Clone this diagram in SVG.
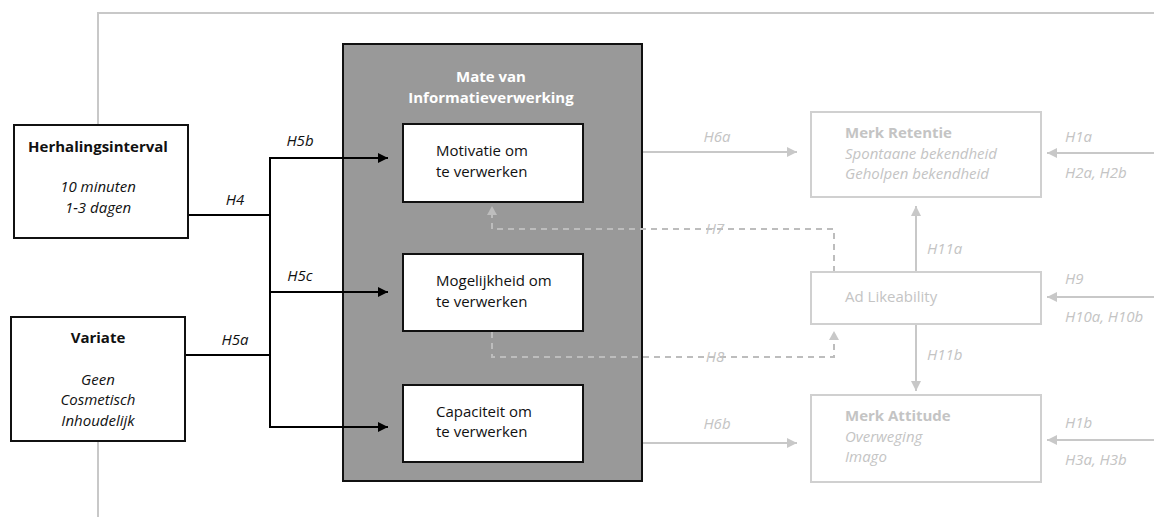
<svg xmlns="http://www.w3.org/2000/svg" width="1154" height="517" viewBox="0 0 1154 517">
  <defs>
    <marker id="arrowDark" viewBox="0 0 10 10" refX="10" refY="5" markerWidth="10" markerHeight="10" markerUnits="userSpaceOnUse" orient="auto">
      <path d="M0,0 L10,5 L0,10 Z" fill="#000"/>
    </marker>
    <marker id="arrowLight" viewBox="0 0 10 10" refX="10" refY="5" markerWidth="10" markerHeight="10" markerUnits="userSpaceOnUse" orient="auto">
      <path d="M0,0 L10,5 L0,10 Z" fill="#c8c8c8"/>
    </marker>
    <style>
      text { font-family: "Open Sans", "Liberation Sans", sans-serif; font-size: 15px; }
      .dark { fill: #111; }
      .light { fill: #c4c4c4; }
      .white { fill: #fff; }
      .b { font-weight: bold; }
      .i { font-style: italic; }
      .mid { text-anchor: middle; }
      .box { fill: #fff; stroke: #111; stroke-width: 2; }
      .fadebox { fill: #fff; stroke: #d0d0d0; stroke-width: 2; }
      .line { fill: none; stroke: #000; stroke-width: 2; }
      .fade { fill: none; stroke: #c8c8c8; stroke-width: 2; }
      .dash { fill: none; stroke: #bdbdbd; stroke-width: 2; stroke-dasharray: 6 5; }
    </style>
  </defs>

  <!-- frame lines -->
  <g id="frame">
    <polyline class="fade" points="98,125 98,13 1154,13"/>
    <line class="fade" x1="98" y1="442" x2="98" y2="517"/>
  </g>

  <!-- central processing block -->
  <g id="informatieverwerking">
    <rect x="343" y="44" width="299" height="437" fill="#999" stroke="#111" stroke-width="2"/>
    <text class="white b mid" x="491" y="82">Mate van</text>
    <text class="white b mid" x="491" y="103">Informatieverwerking</text>
  </g>

  <!-- connectors -->
  <g id="connectors">
    <line class="line" x1="188" y1="215" x2="270" y2="215"/>
    <line class="line" x1="185" y1="355" x2="270" y2="355"/>
    <line class="line" x1="270" y1="157" x2="270" y2="428"/>
    <line class="line" x1="269" y1="158" x2="388" y2="158" marker-end="url(#arrowDark)"/>
    <line class="line" x1="269" y1="292" x2="388" y2="292" marker-end="url(#arrowDark)"/>
    <line class="line" x1="269" y1="427" x2="388" y2="427" marker-end="url(#arrowDark)"/>

    <line class="fade" x1="643" y1="152" x2="797" y2="152" marker-end="url(#arrowLight)"/>
    <line class="fade" x1="643" y1="443" x2="797" y2="443" marker-end="url(#arrowLight)"/>
    <line class="fade" x1="1154" y1="153" x2="1047" y2="153" marker-end="url(#arrowLight)"/>
    <line class="fade" x1="1154" y1="297" x2="1047" y2="297" marker-end="url(#arrowLight)"/>
    <line class="fade" x1="1154" y1="440" x2="1047" y2="440" marker-end="url(#arrowLight)"/>
    <line class="fade" x1="916" y1="272" x2="916" y2="206" marker-end="url(#arrowLight)"/>
    <line class="fade" x1="916" y1="325" x2="916" y2="391" marker-end="url(#arrowLight)"/>

    <polyline class="dash" points="834,272 834,229 492,229 492,214"/>
    <path d="M487,215 L492,206 L497,215 Z" fill="#bdbdbd"/>
    <polyline class="dash" points="492,332 492,357 834,357 834,340"/>
    <path d="M829,340 L834,331 L839,340 Z" fill="#c8c8c8"/>

    <text class="dark i mid" x="300" y="146">H5b</text>
    <text class="dark i mid" x="235" y="205">H4</text>
    <text class="dark i mid" x="300" y="281">H5c</text>
    <text class="dark i mid" x="235" y="345">H5a</text>
    <text class="light i mid" x="717" y="142">H6a</text>
    <text class="light i mid" x="717" y="429">H6b</text>
    <text class="light i mid" x="715" y="234">H7</text>
    <text class="light i mid" x="715" y="362">H8</text>
    <text class="light i" x="927" y="254">H11a</text>
    <text class="light i" x="927" y="360">H11b</text>
    <text class="light i" x="1065" y="142">H1a</text>
    <text class="light i" x="1065" y="178">H2a, H2b</text>
    <text class="light i" x="1065" y="284">H9</text>
    <text class="light i" x="1065" y="322">H10a, H10b</text>
    <text class="light i" x="1065" y="428">H1b</text>
    <text class="light i" x="1065" y="465">H3a, H3b</text>
  </g>

  <g id="herhalingsinterval">
    <rect class="box" x="14" y="125" width="174" height="113"/>
    <text class="dark b mid" x="98" y="152">Herhalingsinterval</text>
    <text class="dark i mid" x="98" y="192">10 minuten</text>
    <text class="dark i mid" x="98" y="213">1-3 dagen</text>
  </g>

  <g id="variate">
    <rect class="box" x="11" y="317" width="174" height="124"/>
    <text class="dark b mid" x="98" y="343">Variate</text>
    <text class="dark i mid" x="98" y="385">Geen</text>
    <text class="dark i mid" x="98" y="405">Cosmetisch</text>
    <text class="dark i mid" x="98" y="426">Inhoudelijk</text>
  </g>

  <g id="motivatie">
    <rect class="box" x="403" y="124" width="180" height="78"/>
    <text class="dark" x="436" y="156">Motivatie om</text>
    <text class="dark" x="436" y="177">te verwerken</text>
  </g>

  <g id="mogelijkheid">
    <rect class="box" x="403" y="254" width="180" height="77"/>
    <text class="dark" x="436" y="286">Mogelijkheid om</text>
    <text class="dark" x="436" y="307">te verwerken</text>
  </g>

  <g id="capaciteit">
    <rect class="box" x="403" y="385" width="180" height="77"/>
    <text class="dark" x="436" y="417">Capaciteit om</text>
    <text class="dark" x="436" y="437">te verwerken</text>
  </g>

  <g id="merk-retentie">
    <rect class="fadebox" x="811" y="112" width="230" height="85"/>
    <text class="light b" x="845" y="138">Merk Retentie</text>
    <text class="light i" x="845" y="159">Spontaane bekendheid</text>
    <text class="light i" x="845" y="179">Geholpen bekendheid</text>
  </g>

  <g id="ad-likeability">
    <rect class="fadebox" x="811" y="272" width="230" height="52"/>
    <text class="light" x="845" y="302">Ad Likeability</text>
  </g>

  <g id="merk-attitude">
    <rect class="fadebox" x="811" y="395" width="230" height="87"/>
    <text class="light b" x="845" y="421">Merk Attitude</text>
    <text class="light i" x="845" y="442">Overweging</text>
    <text class="light i" x="845" y="462">Imago</text>
  </g>
</svg>
